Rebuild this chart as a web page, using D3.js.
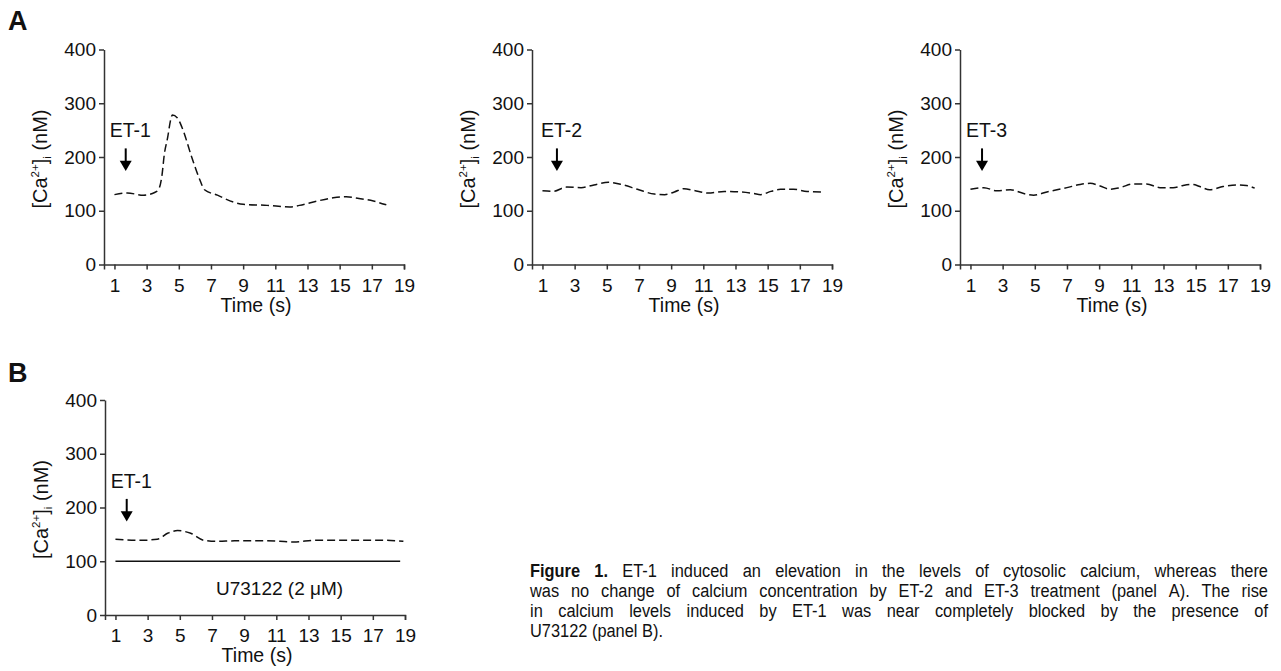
<!DOCTYPE html>
<html>
<head>
<meta charset="utf-8">
<script src="https://cdn.jsdelivr.net/npm/d3@7"></script>
<style>
  body { margin: 0; background: #fff; }
  svg { display: block; }
  text { font-family: "Liberation Sans", Arial, sans-serif; fill: #111; }
</style>
</head>
<body>
<div id="chart"></div>
<script>
const width = 1281;
const height = 671;

// x tick labels (s) and y ticks (nM)
const timeTicks = [1, 3, 5, 7, 9, 11, 13, 15, 17, 19];
const caTicks = [0, 100, 200, 300, 400];

// ET-1 trace (panel A, left)
const et1Time = [1.0, 1.8, 2.8, 3.5, 3.75, 3.95, 4.1, 4.3, 4.5, 4.6, 4.9, 5.2, 5.8, 6.3, 6.6, 7.4, 8.4, 9.0, 10.5, 11.9, 12.5, 13.6, 14.6, 15.4, 16.2, 17.1, 17.9];
const et1Ca   = [130, 133, 129, 134, 140, 165, 205, 235, 270, 278, 273, 255, 200, 158, 139, 129, 116, 112, 110, 107, 110, 118, 124, 126, 123, 118, 111];

// ET-2 trace (panel A, middle)
const et2Time = [1.0, 1.66, 2.5, 3.4, 4.2, 5.1, 5.9, 6.9, 7.96, 8.6, 9.2, 9.8, 10.4, 11.3, 12.3, 13.3, 14.15, 14.56, 15.2, 15.8, 16.6, 17.45, 18.5];
const et2Ca   = [137, 136, 144, 143, 148, 153, 149, 140, 131, 130, 135, 141, 138, 133, 136, 135, 132, 130, 136, 140, 140, 136, 135];

// ET-3 trace (panel A, right)
const et3Time = [1.0, 1.83, 2.65, 3.48, 4.31, 4.93, 5.75, 7.0, 7.82, 8.44, 9.06, 9.68, 10.3, 11.13, 11.95, 12.78, 13.6, 14.22, 14.84, 15.26, 15.88, 16.7, 17.53, 18.15, 18.67];
const et3Ca   = [140, 143, 137, 139, 132, 129, 135, 143, 149, 151, 146, 140, 143, 150, 150, 143, 143, 147, 149, 145, 139, 145, 148, 147, 142];

// ET-1 + U73122 trace (panel B)
const bTime = [1.0, 2.6, 3.6, 4.24, 4.86, 5.68, 6.5, 7.34, 8.4, 10.4, 12.06, 13.5, 15.6, 17.66, 18.9];
const bCa   = [141, 139, 141, 152, 157, 152, 139, 137, 138, 138, 136, 139, 139, 139, 137];

// U73122 baseline (solid line)
const inhibTime = [1.0, 18.7];
const inhibCa = [100, 100];

const caption = [
  ["Figure 1.", "ET-1 induced an elevation in the levels of cytosolic calcium, whereas there"],
  ["", "was no change of calcium concentration by ET-2 and ET-3 treatment (panel A). The rise"],
  ["", "in calcium levels induced by ET-1 was near completely blocked by the presence of"],
  ["", "U73122 (panel B)."]
];

const svg = d3.select("#chart").append("svg")
  .attr("width", width)
  .attr("height", height);

// panel layout (pixel boxes only)
const panels = [
  { left: 104, top: 49.5, t: et1Time, v: et1Ca, agent: "ET-1", arrowAt: 1.7 },
  { left: 532, top: 49.5, t: et2Time, v: et2Ca, agent: "ET-2", arrowAt: 1.9 },
  { left: 960, top: 49.5, t: et3Time, v: et3Ca, agent: "ET-3", arrowAt: 1.72 },
  { left: 105, top: 400, t: bTime, v: bCa, agent: "ET-1", arrowAt: 1.7, inhibitor: true }
];

const plotW = 300, plotH = 215;

panels.forEach(p => {
  const x = d3.scaleLinear().domain([0.35, 19]).range([p.left, p.left + plotW]);
  const y = d3.scaleLinear().domain([0, 400]).range([p.top + plotH, p.top]);
  const g = svg.append("g");

  const xAxis = g.append("g")
    .attr("transform", `translate(0,${p.top + plotH})`)
    .call(d3.axisBottom(x).tickValues(timeTicks).tickSize(5).tickSizeOuter(5).tickPadding(9));
  const yAxis = g.append("g")
    .attr("transform", `translate(${p.left},0)`)
    .call(d3.axisLeft(y).tickValues(caTicks).tickSize(5).tickSizeOuter(0).tickPadding(3));

  [xAxis, yAxis].forEach(a => {
    a.selectAll("path, line").attr("stroke", "#333").attr("stroke-width", 1.5);
    a.selectAll("text").attr("font-size", 19).attr("fill", "#111")
      .attr("font-family", "Liberation Sans, Arial, sans-serif");
  });

  // axis titles
  g.append("text")
    .attr("x", p.left + plotW / 2 + 2)
    .attr("y", p.top + plotH + 47)
    .attr("text-anchor", "middle")
    .attr("font-size", 19.5)
    .text("Time (s)");

  const yl = g.append("text")
    .attr("transform", `translate(${p.left - 57},${p.top + plotH / 2 + 2}) rotate(-90)`)
    .attr("text-anchor", "middle")
    .attr("font-size", 20);
  yl.append("tspan").text("[Ca");
  yl.append("tspan").attr("font-size", 11.5).attr("dy", -8).text("2+");
  yl.append("tspan").attr("dy", 8).text("]");
  yl.append("tspan").attr("font-size", 11.5).attr("dy", 4).text("i");
  yl.append("tspan").attr("dy", -4).text(" (nM)");

  // dashed trace
  const line = d3.line()
    .x((d, i) => x(p.t[i]))
    .y(d => y(d))
    .curve(d3.curveMonotoneX);

  g.append("path")
    .attr("d", line(p.v))
    .attr("fill", "none")
    .attr("stroke", "#111")
    .attr("stroke-width", 1.5)
    .attr("stroke-dasharray", "8,4");

  if (p.inhibitor) {
    const solid = d3.line().x((d, i) => x(inhibTime[i])).y(d => y(d));
    g.append("path")
      .attr("d", solid(inhibCa))
      .attr("fill", "none")
      .attr("stroke", "#111")
      .attr("stroke-width", 1.5);
    g.append("text")
      .attr("x", x(11.2))
      .attr("y", y(37))
      .attr("text-anchor", "middle")
      .attr("font-size", 19)
      .text("U73122 (2 \u03bcM)");
  }

  // agent arrow
  const ax = x(p.arrowAt);
  g.append("text")
    .attr("x", ax - 16)
    .attr("y", y(237))
    .attr("font-size", 19.5)
    .text(p.agent);
  g.append("line")
    .attr("x1", ax).attr("x2", ax)
    .attr("y1", y(216)).attr("y2", y(186))
    .attr("stroke", "#000").attr("stroke-width", 2);
  g.append("path")
    .attr("d", `M${ax - 6},${y(193)} L${ax + 6},${y(193)} L${ax},${y(174)} Z`)
    .attr("fill", "#000");
});

// panel letters
svg.append("text").attr("x", 8).attr("y", 30)
  .attr("font-size", 27).attr("font-weight", "bold").text("A");
svg.append("text").attr("x", 8).attr("y", 382)
  .attr("font-size", 27).attr("font-weight", "bold").text("B");

// caption, justified word by word
const capLeft = 530, capRight = 1268, capTop = 577, capStep = 20;
const capG = svg.append("g");

// narrow face if present, else squeeze the regular one
const probe = capG.append("text").attr("font-size", 40).text("abcdefghij");
probe.attr("font-family", "Liberation Sans");
const wide = probe.node().getComputedTextLength();
probe.attr("font-family", "Liberation Sans Narrow");
const narrow = probe.node().getComputedTextLength();
probe.remove();
const hasNarrow = narrow < wide * 0.95;
const squeeze = hasNarrow ? 1 : 0.82;
const capFamily = hasNarrow ? "Liberation Sans Narrow" : "Liberation Sans";

// size the caption so the tightest line (line 2) nearly fills the width
const fit = capG.append("text").attr("font-size", 10).attr("font-family", capFamily).text(caption[1][1]);
const fitW = fit.node().getComputedTextLength() * squeeze;
fit.remove();
const capFont = Math.min(20, 10 * (capRight - capLeft) * 0.975 / fitW);

caption.forEach((row, li) => {
  const [bold, rest] = row;
  const words = [];
  if (bold) bold.split(" ").forEach(w => words.push({ w, b: true }));
  rest.split(" ").forEach(w => words.push({ w, b: false }));
  const t = capG.append("text")
    .attr("transform", `translate(${capLeft},${capTop + li * capStep}) scale(${squeeze},0.92)`)
    .attr("font-size", capFont)
    .attr("font-family", capFamily);
  const spans = words.map(d => t.append("tspan")
    .attr("font-weight", d.b ? "bold" : "normal")
    .text(d.w));
  const widths = spans.map(s => s.node().getComputedTextLength());
  const total = d3.sum(widths);
  const avail = (capRight - capLeft) / squeeze;
  const last = li === caption.length - 1;
  const gap = last ? capFont * 0.278 : (avail - total) / (words.length - 1);
  let cx = 0;
  spans.forEach((s, i) => {
    s.attr("x", cx);
    cx += widths[i] + gap;
  });
});
</script>
</body>
</html>
